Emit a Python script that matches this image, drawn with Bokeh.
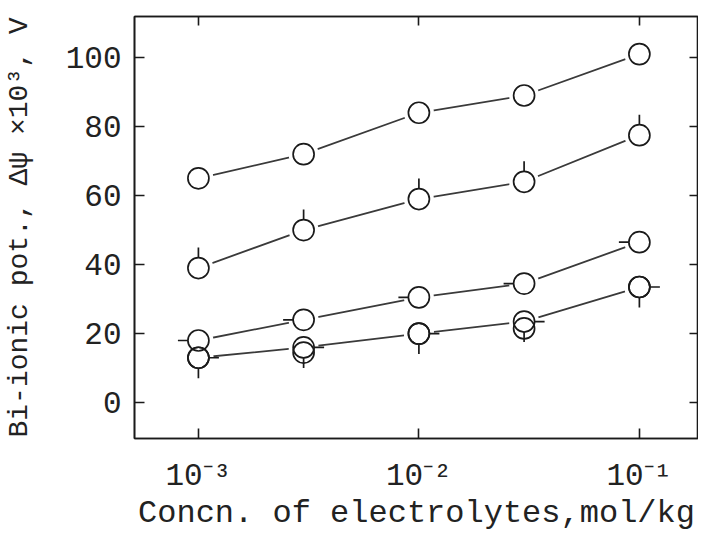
import math
from bokeh.plotting import figure
from bokeh.models import (LogAxis, LinearAxis, FixedTicker, CustomJSTickFormatter,
                          Range1d)
from bokeh.embed import file_html
from bokeh.resources import INLINE

# ---- data ----
conc = [1e-3, 3e-3, 1e-2, 3e-2, 1e-1]
series_a = [65.0, 72.0, 84.0, 89.0, 101.0]
series_b = [39.0, 50.0, 59.0, 64.0, 77.5]
series_c = [18.0, 24.0, 30.5, 34.5, 46.5]
series_d = [13.0, 16.0, 20.0, 23.5, 33.5]
series_e = [13.0, 14.5, 20.0, 21.5, 33.5]   # second (overlapping) measurements
y_ticks = [0, 20, 40, 60, 80, 100]
x_ticks = [1e-3, 1e-2, 1e-1]
x_tick_labels = ["10\u207b\u00b3", "10\u207b\u00b2", "10\u207b\u00b9"]
x_title = "Concn. of electrolytes,mol/kg"
y_title = "Bi-ionic pot., \u0394\u03c8 \u00d710\u00b3, V"

# ---- geometry / style ----
XMIN, XMAX = 5.13e-4, 0.1854
YMIN, YMAX = -10.4, 111.9
FW, FH = 564, 422
FONT = "Liberation Mono"
INK = "#1a1a1a"
TXT = "#222222"
LINE = "#3a3a3a"
R = 10.5      # circle radius px
L = 10        # flag length px

p = figure(x_axis_type="log", x_range=Range1d(XMIN, XMAX), y_range=Range1d(YMIN, YMAX),
           frame_width=FW, frame_height=FH,
           min_border_left=0, min_border_right=0, min_border_top=16, min_border_bottom=0,
           output_backend="svg", toolbar_location=None)
p.grid.visible = False
p.outline_line_color = INK
p.outline_line_width = 1.6
p.background_fill_color = "white"
p.border_fill_color = "white"

# bottom axis
xa = p.xaxis[0]
xa.ticker = FixedTicker(ticks=x_ticks)
xa.formatter = CustomJSTickFormatter(args=dict(tvals=x_ticks, tlabels=x_tick_labels), code="""
let best = 0, d = Infinity;
for (let i = 0; i < tvals.length; i++) {
  const e = Math.abs(Math.log10(tick) - Math.log10(tvals[i]));
  if (e < d) { d = e; best = i; }
}
return tlabels[best];
""")
xa.axis_label = x_title
# left axis
ya = p.yaxis[0]
ya.ticker = FixedTicker(ticks=y_ticks)
ya.axis_label = y_title

for ax, standoff, lstand in ((xa, 20, -2), (ya, 13, 28)):
    ax.major_tick_in = 10
    ax.major_tick_out = 0
    ax.minor_tick_line_color = None
    ax.major_tick_line_color = INK
    ax.major_tick_line_width = 1.6
    ax.axis_line_color = INK
    ax.axis_line_width = 1.6
    ax.major_label_text_font = FONT
    ax.major_label_text_font_size = "31px"
    ax.major_label_text_color = TXT
    ax.major_label_standoff = standoff
    ax.axis_label_text_font = FONT
    ax.axis_label_text_font_style = "normal"
    ax.axis_label_text_color = TXT
    ax.axis_label_standoff = lstand
xa.axis_label_text_font_size = "32px"
ya.axis_label_text_font_size = "28px"

# top and right tick-only axes
top = LogAxis(ticker=FixedTicker(ticks=x_ticks), formatter=CustomJSTickFormatter(code="return '';"))
right = LinearAxis(ticker=FixedTicker(ticks=y_ticks), formatter=CustomJSTickFormatter(code="return '';"))
for ax in (top, right):
    ax.major_tick_in = 9
    ax.major_tick_out = 0
    ax.minor_tick_line_color = None
    ax.major_tick_line_color = INK
    ax.major_tick_line_width = 1.6
    ax.axis_line_color = INK
    ax.axis_line_width = 1.6
    ax.major_label_text_font_size = "2px"
    ax.major_label_standoff = 0
p.add_layout(top, "above")
p.add_layout(right, "right")

# ---- marks ----
all_series = [series_a, series_b, series_c, series_d]
for s in all_series:
    p.line(conc, s, line_color=LINE, line_width=1.8)

for s in all_series + [series_e]:
    p.scatter(conc, s, size=2 * R + 9, fill_color="white", line_color=None)
for s in all_series + [series_e]:
    p.scatter(conc, s, size=2 * R, fill_color=None, line_color=INK, line_width=1.7)

# small flags beside the circles (pixel lengths converted through the scales)
ky = FH / (YMAX - YMIN)
kx = FW / (math.log10(XMAX) - math.log10(XMIN))

def flags(s, side):
    x0, x1, y0, y1 = [], [], [], []
    for c, v in zip(conc, s):
        if side == "up":
            x0.append(c); x1.append(c); y0.append(v + R / ky); y1.append(v + (R + L) / ky)
        elif side == "down":
            x0.append(c); x1.append(c); y0.append(v - R / ky); y1.append(v - (R + L) / ky)
        elif side == "left":
            x0.append(c * 10 ** (-R / kx)); x1.append(c * 10 ** (-(R + L) / kx)); y0.append(v); y1.append(v)
        else:
            x0.append(c * 10 ** (R / kx)); x1.append(c * 10 ** ((R + L) / kx)); y0.append(v); y1.append(v)
    p.segment(x0, y0, x1, y1, line_color=INK, line_width=1.7)

flags(series_b, "up")
flags(series_c, "left")
flags(series_d, "down")
flags(series_d, "right")

open("out.html", "w").write(file_html(p, INLINE))
